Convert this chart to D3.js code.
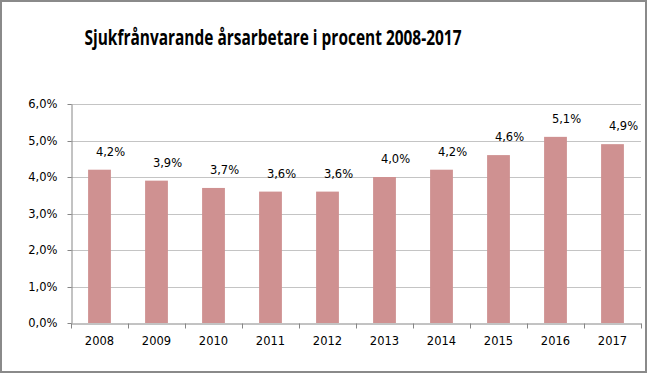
<!DOCTYPE html>
<html><head><meta charset="utf-8">
<script src="https://cdn.jsdelivr.net/npm/d3@7/dist/d3.min.js"></script>
<style>body{margin:0;background:#fff}svg{display:block}</style>
</head><body>
<svg id="c" width="648" height="374"></svg>
<script>
const titleText = "Sjukfrånvarande årsarbetare i procent 2008-2017";
const years = ["2008","2009","2010","2011","2012","2013","2014","2015","2016","2017"];
const values = [4.2, 3.9, 3.7, 3.6, 3.6, 4.0, 4.2, 4.6, 5.1, 4.9];
const yTicks = [0, 1, 2, 3, 4, 5, 6];

const svg = d3.select("#c");
const W = 648, H = 374;
const m = {left: 71, right: 7, top: 104, bottom: 51};
const fmt = v => d3.format(".1f")(v).replace(".", ",") + "%";

svg.append("rect").attr("x",1).attr("y",1).attr("width",W-3).attr("height",H-3)
  .attr("fill","#fff").attr("stroke","#8a8a8a").attr("stroke-width",2);

const x = d3.scaleBand().domain(years).range([m.left, W - m.right]).paddingInner(0.6).paddingOuter(0.3);
const y = d3.scaleLinear().domain([0, 6]).range([H - m.bottom, m.top]);

// gridlines
svg.append("g").selectAll("line").data(yTicks.filter(d=>d>0)).join("line")
  .attr("x1", m.left).attr("x2", W - m.right)
  .attr("y1", d => Math.round(y(d))+0.5).attr("y2", d => Math.round(y(d))+0.5)
  .attr("stroke", "#c4c4c4").attr("stroke-width", 1);

// y axis
const ya = svg.append("g").attr("transform", `translate(${m.left+0.5},0)`)
  .call(d3.axisLeft(y).tickValues(yTicks).tickFormat(fmt).tickSize(4).tickPadding(10).tickSizeOuter(0));
ya.select(".domain").attr("stroke","#868686");
ya.selectAll(".tick line").attr("stroke","#868686");
ya.selectAll(".tick").attr("transform", d => `translate(0,${Math.round(y(d))+0.5})`);
ya.selectAll("text").attr("font-family","DejaVu Sans").attr("font-size","11.5px").attr("fill","#000");

// bars
svg.append("g").selectAll("rect").data(years).join("rect")
  .attr("x", d => x(d)).attr("width", x.bandwidth())
  .attr("y", (d,i) => y(values[i])).attr("height", (d,i) => y(0) - y(values[i]))
  .attr("fill", "#cf9191");

// x axis
const xa = svg.append("g").attr("transform", `translate(0,${Math.round(y(0))+0.5})`)
  .call(d3.axisBottom(x).tickSize(0).tickPadding(13).tickSizeOuter(0));
xa.select(".domain").attr("stroke","#868686");
xa.selectAll("text").attr("font-family","DejaVu Sans").attr("font-size","11.5px").attr("fill","#000");
const step = x.step();
const bounds = d3.range(years.length + 1).map(i => m.left + i * step);
xa.append("g").selectAll("line").data(bounds).join("line")
  .attr("x1", d => Math.round(d)+0.5).attr("x2", d => Math.round(d)+0.5)
  .attr("y1", 0).attr("y2", 5).attr("stroke","#868686");

// value labels
svg.append("g").selectAll("text").data(years).join("text")
  .attr("x", d => x(d) + x.bandwidth()/2 + 11)
  .attr("y", (d,i) => y(values[i]) - 14)
  .attr("text-anchor","middle")
  .attr("font-family","DejaVu Sans").attr("font-size","11.5px").attr("fill","#000")
  .text((d,i) => fmt(values[i]));

// title
svg.append("text").attr("x", 273).attr("y", 45).attr("text-anchor","middle")
  .attr("font-family","Open Sans").attr("font-weight","bold").attr("font-size","21px")
  .attr("textLength", 377).attr("lengthAdjust","spacingAndGlyphs")
  .attr("fill","#000").text(titleText);
</script>
</body></html>
